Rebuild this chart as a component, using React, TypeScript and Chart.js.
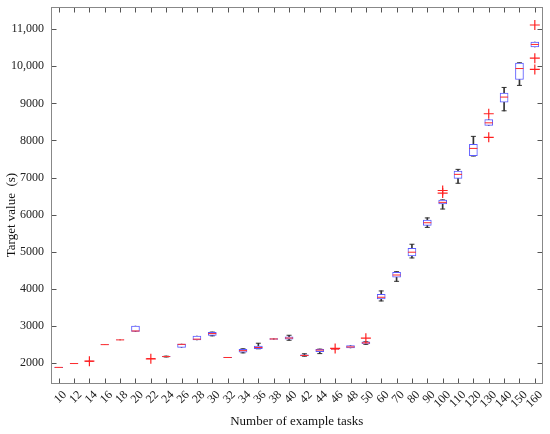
import React, { useEffect, useRef } from 'react';
import { Chart, registerables } from 'chart.js';

Chart.register(...registerables);

const categories = ['10', '12', '14', '16', '18', '20', '22', '24', '26', '28', '30', '32', '34', '36', '38', '40', '42', '44', '46', '48', '50', '60', '70', '80', '90', '100', '110', '120', '130', '140', '150', '160'];
const whiskerLow = [1872, 1978, 2038, 2488, 2616, 2850, 2110, 2160, 2420, 2620, 2730, 2140, 2270, 2380, 2635, 2610, 2180, 2250, 2365, 2400, 2500, 3670, 4200, 4830, 5655, 6150, 6845, 7580, 8405, 8800, 9485, 10520];
const quartile1 = [1872, 1978, 2038, 2488, 2616, 2850, 2110, 2165, 2420, 2620, 2740, 2140, 2290, 2385, 2635, 2640, 2188, 2305, 2365, 2400, 2515, 3725, 4310, 4885, 5710, 6285, 6975, 7590, 8405, 9035, 9645, 10520];
const medians = [1878, 1982, 2042, 2492, 2620, 2860, 2115, 2170, 2500, 2640, 2790, 2145, 2330, 2415, 2645, 2670, 2200, 2345, 2370, 2430, 2540, 3770, 4370, 4985, 5780, 6330, 7085, 7785, 8475, 9170, 9940, 10590];
const quartile3 = [1882, 1986, 2046, 2496, 2624, 2990, 2120, 2175, 2510, 2720, 2825, 2150, 2365, 2455, 2655, 2705, 2215, 2365, 2378, 2465, 2565, 3850, 4440, 5090, 5855, 6390, 7175, 7895, 8560, 9275, 10085, 10655];
const whiskerHigh = [1882, 1986, 2046, 2496, 2624, 2990, 2120, 2180, 2510, 2720, 2830, 2150, 2380, 2530, 2655, 2745, 2245, 2370, 2378, 2465, 2570, 3940, 4460, 5200, 5910, 6395, 7220, 8110, 8560, 9430, 10095, 10655];
const outlierCategories = ['14', '22', '46', '50', '100', '100', '130', '130', '160', '160', '160'];
const outlierValues = [2045, 2110, 2390, 2665, 6580, 6650, 8720, 8085, 11115, 10220, 9915];
const yTickValues = [2000, 3000, 4000, 5000, 6000, 7000, 8000, 9000, 10000, 11000];

const FONT = "'Liberation Serif', 'Times New Roman', serif";

const framePlugin = {
  id: 'frame',
  beforeDatasetsDraw(chart: any) {
    const { ctx, chartArea: a, scales } = chart;
    const x = scales.x;
    const y = scales.y;
    const L = Math.round(a.left) + 0.5;
    const R = Math.round(a.right) - 0.5;
    const T = Math.round(a.top) + 0.5;
    const B = Math.round(a.bottom) - 0.5;
    ctx.save();
    ctx.lineWidth = 1;
    ctx.strokeStyle = '#555';
    const tl = 5;
    ctx.beginPath();
    x.ticks.forEach((_t: any, i: number) => {
      const px = Math.round(x.getPixelForTick(i)) + 0.5;
      ctx.moveTo(px, B);
      ctx.lineTo(px, B - tl);
      ctx.moveTo(px, T);
      ctx.lineTo(px, T + tl);
    });
    y.ticks.forEach((_t: any, i: number) => {
      const py = Math.round(y.getPixelForTick(i)) + 0.5;
      ctx.moveTo(L, py);
      ctx.lineTo(L + tl, py);
      ctx.moveTo(R, py);
      ctx.lineTo(R - tl, py);
    });
    ctx.stroke();
    ctx.strokeStyle = '#888';
    ctx.strokeRect(L, T, R - L, B - T);
    ctx.restore();
  },
};

export default function App() {
  const ref = useRef<HTMLCanvasElement>(null);

  useEffect(() => {
    document.body.style.margin = '0';
    const lowWhisker = categories.map((_, i) => [whiskerLow[i], quartile1[i]]);
    const highWhisker = categories.map((_, i) => [quartile3[i], whiskerHigh[i]]);
    const boxes = categories.map((_, i) => [quartile1[i], quartile3[i]]);
    const lowCaps = categories.map((_, i) => (whiskerLow[i] < quartile1[i] ? whiskerLow[i] : null));
    const highCaps = categories.map((_, i) => (whiskerHigh[i] > quartile3[i] ? whiskerHigh[i] : null));
    const outliers = outlierCategories.map((c, i) => ({ x: c, y: outlierValues[i] }));

    const chart = new Chart(ref.current as HTMLCanvasElement, {
      type: 'bar',
      data: {
        labels: categories,
        datasets: [
          {
            type: 'bar',
            data: lowWhisker as any,
            backgroundColor: '#333',
            borderWidth: 0,
            barThickness: 1,
            grouped: false,
            order: 6,
          } as any,
          {
            type: 'bar',
            data: highWhisker as any,
            backgroundColor: '#333',
            borderWidth: 0,
            barThickness: 1,
            grouped: false,
            order: 5,
          } as any,
          {
            type: 'line',
            data: lowCaps,
            showLine: false,
            pointStyle: 'line',
            pointRadius: 2.5,
            borderColor: '#333',
            borderWidth: 1,
            order: 4,
          } as any,
          {
            type: 'line',
            data: highCaps,
            showLine: false,
            pointStyle: 'line',
            pointRadius: 2.5,
            borderColor: '#333',
            borderWidth: 1,
            order: 4,
          } as any,
          {
            type: 'bar',
            data: boxes as any,
            backgroundColor: '#ffffff',
            borderColor: '#5a5aff',
            borderWidth: 1,
            borderSkipped: false,
            barThickness: 8,
            grouped: false,
            order: 3,
          } as any,
          {
            type: 'line',
            data: medians,
            showLine: false,
            pointStyle: 'line',
            pointRadius: 4,
            borderColor: '#ff2a2a',
            borderWidth: 1,
            order: 2,
          } as any,
          {
            type: 'line',
            data: outliers as any,
            showLine: false,
            pointStyle: 'cross',
            pointRadius: 5,
            borderColor: '#ff2020',
            borderWidth: 1.2,
            order: 1,
          } as any,
        ],
      },
      options: {
        responsive: false,
        animation: false,
        layout: { padding: { top: 0, right: 7.5, left: 0, bottom: 0 } },
        plugins: {
          legend: { display: false },
          tooltip: { enabled: false },
        },
        scales: {
          x: {
            type: 'category',
            offset: true,
            grid: { display: false, drawTicks: false },
            border: { display: false },
            ticks: {
              minRotation: 45,
              maxRotation: 45,
              autoSkip: false,
              padding: 4,
              labelOffset: 6,
              color: '#222',
              font: { family: FONT, size: 12 },
            },
            title: {
              display: true,
              text: 'Number of example tasks',
              color: '#111',
              font: { family: FONT, size: 13 },
              padding: { top: 4, bottom: 5 },
            },
            afterFit(s: any) {
              s.height = 50;
            },
          },
          y: {
            type: 'linear',
            min: 1430,
            max: 11600,
            grid: { display: false, drawTicks: false },
            border: { display: false },
            afterBuildTicks(s: any) {
              s.ticks = yTickValues.map((v) => ({ value: v }));
            },
            ticks: {
              padding: 7,
              color: '#222',
              font: { family: FONT, size: 12 },
              callback: (v: any) => (Number(v) >= 10000 ? Number(v).toLocaleString('en-US') : String(v)),
            },
            title: {
              display: true,
              text: 'Target value  (s)            ',
              color: '#111',
              font: { family: FONT, size: 13 },
              padding: { top: 4, bottom: 4 },
            },
            afterFit(s: any) {
              s.width = 51;
              s.paddingTop = 7;
              s.paddingBottom = 0;
            },
          },
        },
      },
      plugins: [framePlugin],
    } as any);
    return () => chart.destroy();
  }, []);

  return (
    <div style={{ width: 550, height: 434 }}>
      <canvas ref={ref} width={550} height={434} />
    </div>
  );
}
